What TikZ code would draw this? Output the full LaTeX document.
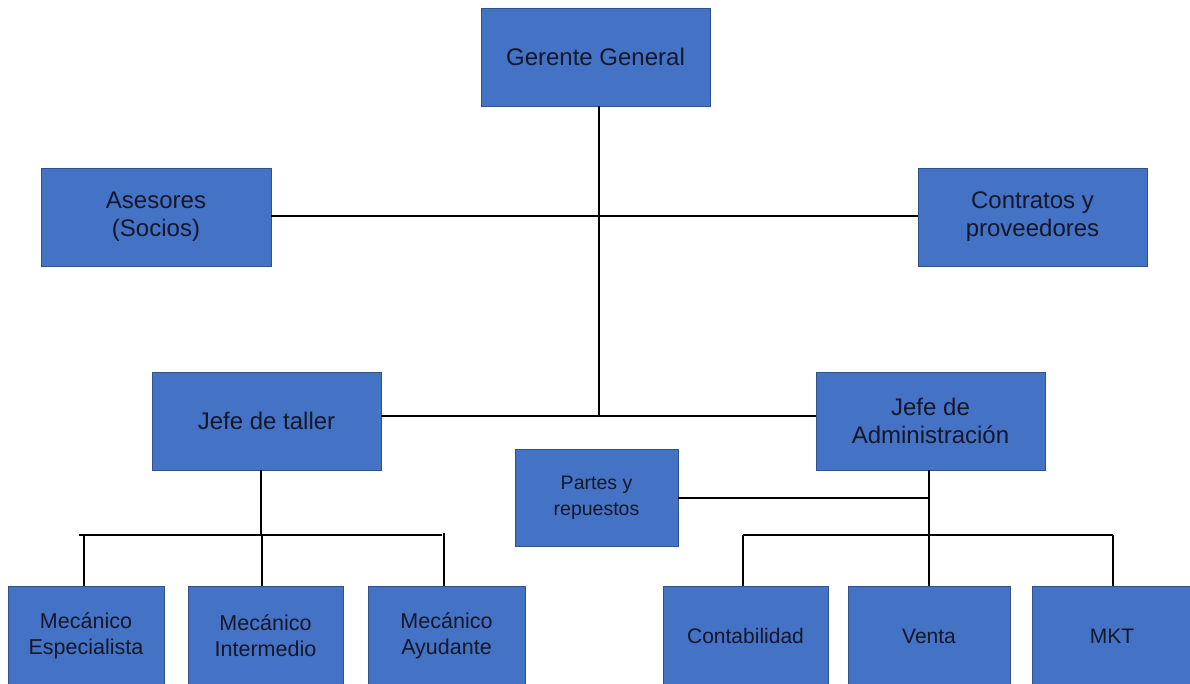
\documentclass[tikz,border=0pt]{standalone}
\usepackage{fontspec}
\setmainfont{Liberation Sans}
\usepackage{xcolor}
\definecolor{caja}{HTML}{4472C4}
\definecolor{borde}{HTML}{2F528F}
\definecolor{letra}{HTML}{15172A}
\usepackage{tikz}

\begin{document}
\begin{tikzpicture}[x=1pt, y=-1pt,
    puesto/.style={draw=borde, line width=0.8pt, fill=caja, text=letra, inner sep=0pt,
        align=center, font=\fontsize{24}{28}\selectfont, minimum height=98pt},
    chico/.style={font=\fontsize{21.5}{26}\selectfont},
    linea/.style={line width=1.6pt},
    gruesa/.style={line width=2.4pt}]
            \useasboundingbox (0, 0) rectangle (1190, 683);
            \clip (0, 0) rectangle (1190, 683);

            \node[puesto, minimum width=229pt] (gerente) at (595.5, 57) {Gerente General};
            \node[puesto, minimum width=230pt] (asesores) at (156, 217) {Asesores\\(Socios)};
            \node[puesto, minimum width=229pt] (contratos) at (1032.5, 217) {Contratos y\\proveedores};
            \node[puesto, minimum width=229pt] (taller) at (266.5, 421) {Jefe de taller};
            \node[puesto, minimum width=229pt] (admin) at (930.5, 421) {Jefe de\\Administración};
            \node[puesto, font=\fontsize{19.5}{26}\selectfont, minimum width=163pt, minimum height=97pt] (partes) at (596.5, 498) {Partes y\\repuestos};

            % mecanicos
            \node[puesto, chico, minimum width=156pt, minimum height=100pt] (especialista) at (86, 636) {Mecánico\\Especialista};
            \node[puesto, chico, minimum width=155pt, minimum height=100pt] (intermedio) at (265.5, 636) {Mecánico\\Intermedio};
            \node[puesto, chico, minimum width=157pt, minimum height=100pt] (ayudante) at (446.5, 636) {Mecánico\\Ayudante};

            % administracion
            \node[puesto, font=\fontsize{21}{26}\selectfont, minimum width=165pt, minimum height=100pt] (contabilidad) at (745.5, 636) {Contabilidad};
            \node[puesto, font=\fontsize{21}{26}\selectfont, minimum width=162pt, minimum height=100pt] (venta) at (929, 636) {Venta};
            \node[puesto, font=\fontsize{21}{26}\selectfont, minimum width=160pt, minimum height=100pt] (mkt) at (1112, 636) {MKT};

            \coordinate (gg) at (599, 106);
            \coordinate (centro) at (599, 416);
            \coordinate (jt) at (261, 535);
            \coordinate (ja) at (929, 535);
            \coordinate (ti) at (79, 535);
            \coordinate (td) at (442, 535);
            \coordinate (ai) at (743, 535);
            \coordinate (ad) at (1113, 535);

            \draw[linea] (gg) -- (centro);
            \draw[linea] (asesores.east |- 0, 216) -- (contratos.west |- 0, 216);
            \draw[linea] (taller.east |- centro) -- (admin.west |- centro);

            \draw[gruesa] (taller.south -| jt) -- (jt);
            \draw[gruesa] (ti) -- (td);
            \draw[linea] (84, 535) -- (especialista.north -| 84, 0);
            \draw[linea] (262, 535) -- (intermedio.north -| 262, 0);
            \draw[linea] (444, 533) -- (ayudante.north -| 444, 0);

            \draw[linea] (admin.south -| ja) -- (ja);
            \draw[linea] (partes.east |- 0, 498) -- (ja |- 0, 498);
            \draw[linea] (ai) -- (ad);
            \draw[linea] (ai) -- (contabilidad.north -| ai);
            \draw[linea] (ja) -- (venta.north -| ja);
            \draw[linea] (ad) -- (mkt.north -| ad);
        \end{tikzpicture}
\end{document}
